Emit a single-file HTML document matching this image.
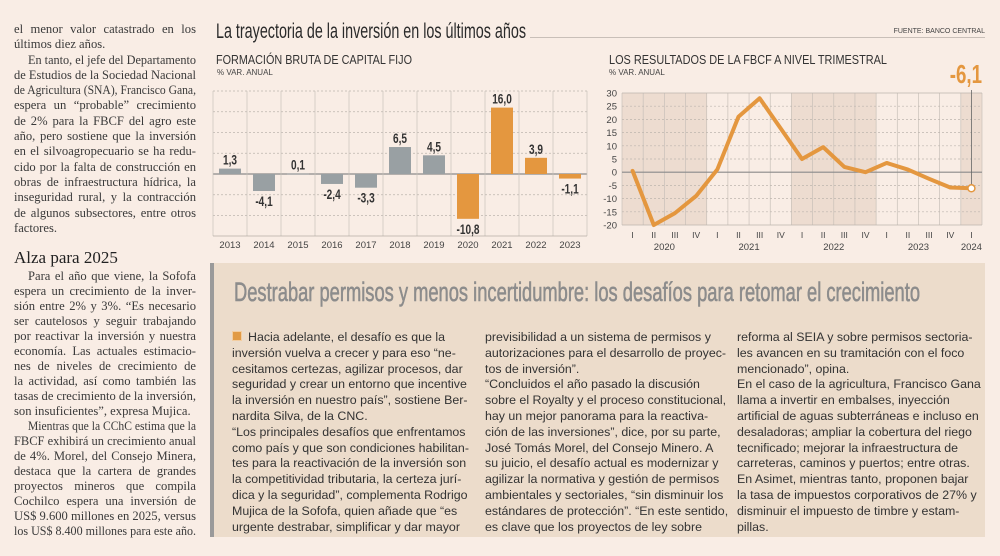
<!DOCTYPE html>
<html><head><meta charset="utf-8">
<style>
html,body{margin:0;padding:0;}
body{width:1000px;height:556px;background:#f9ede5;position:relative;overflow:hidden;font-family:"Liberation Sans",sans-serif;}
.lc{position:absolute;left:14px;width:182px;font-family:"Liberation Serif",serif;font-size:12.6px;color:#3a3a3a;}
.lc div{height:15.3px;line-height:15.3px;white-space:nowrap;text-align:justify;text-align-last:justify;}
.lc div.e{text-align-last:left;}
.lc2 div{height:15.0px;line-height:15.0px;}
.in{padding-left:14px;}
#box{position:absolute;left:210px;top:263px;width:775px;height:274px;background:#ecdccb;border-left:4px solid #9a9a9a;box-sizing:border-box;}
.bc{position:absolute;top:67px;width:245px;font-size:12.4px;color:#333;font-family:"Liberation Sans",sans-serif;}
.bc div{height:15.8px;line-height:15.8px;white-space:nowrap;}
.sc{display:inline-block;transform-origin:0 50%;}
</style></head><body>

<div class="lc" style="top:22px">
<div>el menor valor catastrado en los</div>
<div class="e">últimos diez años.</div>
<div class="in">En tanto, el jefe del Departamento</div>
<div>de Estudios de la Sociedad Nacional</div>
<div>de Agricultura (SNA), Francisco Gana,</div>
<div>espera un “probable” crecimiento</div>
<div>de 2% para la FBCF del agro este</div>
<div>año, pero sostiene que la inversión</div>
<div>en el silvoagropecuario se ha redu-</div>
<div>cido por la falta de construcción en</div>
<div>obras de infraestructura hídrica, la</div>
<div>inseguridad rural, y la contracción</div>
<div>de algunos subsectores, entre otros</div>
<div class="e">factores.</div>
</div>
<div style="position:absolute;left:14px;top:248px;font-family:'Liberation Serif',serif;font-size:17px;color:#222;">Alza para 2025</div>
<div class="lc lc2" style="top:269px">
<div class="in">Para el año que viene, la Sofofa</div>
<div>espera un crecimiento de la inver-</div>
<div>sión entre 2% y 3%. “Es necesario</div>
<div>ser cautelosos y seguir trabajando</div>
<div>por reactivar la inversión y nuestra</div>
<div>economía. Las actuales estimacio-</div>
<div>nes de niveles de crecimiento de</div>
<div>la actividad, así como también las</div>
<div>tasas de crecimiento de la inversión,</div>
<div class="e">son insuficientes”, expresa Mujica.</div>
<div class="in">Mientras que la CChC estima que la</div>
<div>FBCF exhibirá un crecimiento anual</div>
<div>de 4%. Morel, del Consejo Minera,</div>
<div>destaca que la cartera de grandes</div>
<div>proyectos mineros que compila</div>
<div>Cochilco espera una inversión de</div>
<div>US$ 9.600 millones en 2025, versus</div>
<div>los US$ 8.400 millones para este año.</div>
</div>

<svg id="top" width="1000" height="260" style="position:absolute;left:0;top:0" xmlns="http://www.w3.org/2000/svg">
<text x="216" y="38" font-size="21" fill="#2a2a2a" textLength="310" lengthAdjust="spacingAndGlyphs" font-family="Liberation Sans">La trayectoria de la inversión en los últimos años</text>
<line x1="530" y1="37.5" x2="985" y2="37.5" stroke="#c9bfb8" stroke-width="1"/>
<text x="985" y="33" font-size="7" fill="#444" text-anchor="end">FUENTE: BANCO CENTRAL</text>
<text x="216" y="64" font-size="13" fill="#333" textLength="196" lengthAdjust="spacingAndGlyphs">FORMACIÓN BRUTA DE CAPITAL FIJO</text>
<text x="217" y="75" font-size="8" fill="#444">% VAR. ANUAL</text>
<text x="609" y="64" font-size="13" fill="#333" textLength="278" lengthAdjust="spacingAndGlyphs">LOS RESULTADOS DE LA FBCF A NIVEL TRIMESTRAL</text>
<text x="609" y="75" font-size="8" fill="#444">% VAR. ANUAL</text>
<g id="bars"></g>
<g id="lines"></g>
</svg>

<div id="box">
<div style="position:absolute;left:20px;top:12px;">
<svg width="700" height="34"><text x="0" y="26" font-size="27" fill="#8c8c8c" textLength="686" lengthAdjust="spacingAndGlyphs" font-family="Liberation Sans" stroke="#8c8c8c" stroke-width="0.6">Destrabar permisos y menos incertidumbre: los desafíos para retomar el crecimiento</text></svg>
</div>
<div class="bc" style="left:18px">
<div><span style="display:inline-block;width:8px;height:8px;background:#e19a45;border:1px solid #f3cda0;margin-right:6px;vertical-align:0"></span>Hacia adelante, el desafío es que la</div>
<div>inversión vuelva a crecer y para eso “ne-</div>
<div>cesitamos certezas, agilizar procesos, dar</div>
<div>seguridad y crear un entorno que incentive</div>
<div>la inversión en nuestro país”, sostiene Ber-</div>
<div>nardita Silva, de la CNC.</div>
<div>“Los principales desafíos que enfrentamos</div>
<div>como país y que son condiciones habilitan-</div>
<div>tes para la reactivación de la inversión son</div>
<div>la competitividad tributaria, la certeza jurí-</div>
<div>dica y la seguridad”, complementa Rodrigo</div>
<div>Mujica de la Sofofa, quien añade que “es</div>
<div>urgente destrabar, simplificar y dar mayor</div>
</div>
<div class="bc" style="left:271px">
<div>previsibilidad a un sistema de permisos y</div>
<div>autorizaciones para el desarrollo de proyec-</div>
<div>tos de inversión”.</div>
<div>“Concluidos el año pasado la discusión</div>
<div>sobre el Royalty y el proceso constitucional,</div>
<div>hay un mejor panorama para la reactiva-</div>
<div>ción de las inversiones”, dice, por su parte,</div>
<div>José Tomás Morel, del Consejo Minero. A</div>
<div>su juicio, el desafío actual es modernizar y</div>
<div>agilizar la normativa y gestión de permisos</div>
<div>ambientales y sectoriales, “sin disminuir los</div>
<div>estándares de protección”. “En este sentido,</div>
<div>es clave que los proyectos de ley sobre</div>
</div>
<div class="bc" style="left:523px">
<div>reforma al SEIA y sobre permisos sectoria-</div>
<div>les avancen en su tramitación con el foco</div>
<div>mencionado”, opina.</div>
<div>En el caso de la agricultura, Francisco Gana</div>
<div>llama a invertir en embalses, inyección</div>
<div>artificial de aguas subterráneas e incluso en</div>
<div>desaladoras; ampliar la cobertura del riego</div>
<div>tecnificado; mejorar la infraestructura de</div>
<div>carreteras, caminos y puertos; entre otras.</div>
<div>En Asimet, mientras tanto, proponen bajar</div>
<div>la tasa de impuestos corporativos de 27% y</div>
<div>disminuir el impuesto de timbre y estam-</div>
<div>pillas.</div>
</div>
</div>

<script>
const years = ["2013","2014","2015","2016","2017","2018","2019","2020","2021","2022","2023"];
const fbcf = [1.3,-4.1,0.1,-2.4,-3.3,6.5,4.5,-10.8,16.0,3.9,-1.1];
const fbcfLabels = ["1,3","-4,1","0,1","-2,4","-3,3","6,5","4,5","-10,8","16,0","3,9","-1,1"];
const highlighted = [false,false,false,false,false,false,false,true,true,true,true];
const barTicks = [20,15,10,5,0,-5,-10];

const quarters = ["I","II","III","IV","I","II","III","IV","I","II","III","IV","I","II","III","IV","I"];
const qValues = [0.5,-20,-15.5,-9,1,21,28,16.5,5,9.5,2,0,3.5,1,-2.5,-5.8,-6.1];
const qYears = ["2020","2021","2022","2023","2024"];
const qYearStart = [0,4,8,12,16];
const qTicks = [30,25,20,15,10,5,0,-5,-10,-15,-20];
const lastLabel = "-6,1";

// fit text lines to column width
document.querySelectorAll('.lc div, .bc div').forEach(d=>{
  const maxW=d.clientWidth - (parseFloat(getComputedStyle(d).paddingLeft)||0);
  const s=document.createElement('span');
  s.className='sc';
  while(d.firstChild) s.appendChild(d.firstChild);
  d.appendChild(s);
  const w=s.getBoundingClientRect().width;
  if(w>maxW){ s.style.transform='scaleX('+(maxW/w)+')'; }
  else if(d.parentNode.classList.contains('lc')){ while(s.firstChild) d.insertBefore(s.firstChild,s); s.remove(); }
});

const NS="http://www.w3.org/2000/svg";
function mk(parent,tag,attrs,txt){const e=document.createElementNS(NS,tag);for(const k in attrs)e.setAttribute(k,attrs[k]);if(txt!==undefined)e.textContent=txt;parent.appendChild(e);return e;}

// bar chart
const bg=document.getElementById('bars');
const bx0=213,bx1=587,by0=174,bpu=4.15,btop=91,bbot=236;
const bw=(bx1-bx0)/years.length;
const bxs=i=>bx0+bw*i, byv=v=>by0-v*bpu;
barTicks.forEach(t=>{
  const l=mk(bg,'line',{x1:bx0,x2:bx1,y1:byv(t),y2:byv(t),stroke:t===0?'#8a8a8a':'#bdb5ae','stroke-width':t===0?1.2:0.7,'stroke-dasharray':t===0?'':'2,2'});
  
  
});
for(let i=0;i<=years.length;i++){
  mk(bg,'line',{x1:bxs(i),x2:bxs(i),y1:btop,y2:bbot,stroke:'#c8c0b9','stroke-width':0.7});
}
mk(bg,'line',{x1:bx0,x2:bx1,y1:bbot,y2:bbot,stroke:'#b5aca5','stroke-width':0.8});
years.forEach((y,i)=>{
  const v=fbcf[i],cx=bxs(i)+bw/2,w=22;
  const r=mk(bg,'rect',{x:cx-w/2,y:Math.min(byv(v),by0),width:w,height:Math.max(Math.abs(v)*bpu,0.8),fill:highlighted[i]?'#e4973f':'#99a0a3'});
  
  
  const ly=v>=0?byv(v)-4:byv(v)+15;
  const t=mk(bg,'text',{x:cx,y:ly,'font-size':14,'text-anchor':'middle',fill:'#333','font-weight':'bold',transform:`translate(${cx},0) scale(0.72,1) translate(${-cx},0)`},fbcfLabels[i]);
  
  
  const xl=mk(bg,'text',{x:cx,y:248,'font-size':9.5,'text-anchor':'middle',fill:'#444'},y);
  
  
});

// line chart
const lg=document.getElementById('lines');
const lx0=622,lx1=982,ly30=93,lym20=225;
const qw=(lx1-lx0)/quarters.length;
const lyv=v=>ly30+(30-v)*(lym20-ly30)/50;
const lxq=i=>lx0+qw*(i+0.5);
qYearStart.forEach((s,k)=>{
  if(k%2===0){
    const n=(k+1<qYearStart.length?qYearStart[k+1]:quarters.length)-s;
    const r=mk(lg,'rect',{x:lx0+qw*s,y:ly30,width:qw*n,height:lym20-ly30,fill:'#eddcd0'});
    
    
  }
});
for(let i=0;i<=quarters.length;i++){
  mk(lg,'line',{x1:lx0+qw*i,x2:lx0+qw*i,y1:ly30,y2:lym20,stroke:'#c8c0b9','stroke-width':0.7});
}
qTicks.forEach(t=>{
  mk(lg,'line',{x1:lx0,x2:lx1,y1:lyv(t),y2:lyv(t),stroke:t===0?'#8a8a8a':'#bdb5ae','stroke-width':t===0?1.2:0.7,'stroke-dasharray':(t===0||t===30||t===-20)?'':'2,2'});
  const tl=mk(lg,'text',{x:617,y:lyv(t)+3.5,'font-size':9.5,'text-anchor':'end',fill:'#444'},String(t));
  
  
});
quarters.forEach((q,i)=>{
  const t=mk(lg,'text',{x:lxq(i),y:238,'font-size':8.5,'text-anchor':'middle',fill:'#444'},q);
  
  
});
qYears.forEach((y,k)=>{
  const s=qYearStart[k],e=k+1<qYearStart.length?qYearStart[k+1]:quarters.length;
  let cx=lx0+qw*(s+e)/2; if(k===qYears.length-1) cx=lxq(s);
  const t=mk(lg,'text',{x:cx,y:250,'font-size':9.5,'text-anchor':'middle',fill:'#444'},y);
  
  
});
const lastI=qValues.length-1;
mk(lg,'line',{x1:lxq(lastI),x2:lxq(lastI),y1:90,y2:lyv(qValues[lastI]),stroke:'#666','stroke-width':0.8});
const pts=qValues.map((v,i)=>lxq(i)+','+lyv(v)).join(' ');
const pl=mk(lg,'polyline',{points:pts,fill:'none',stroke:'#e4973f','stroke-width':4,'stroke-linejoin':'round','stroke-linecap':'round'});


const c=mk(lg,'circle',{cx:lxq(lastI),cy:lyv(qValues[lastI]),r:3.5,fill:'#fff',stroke:'#e4973f','stroke-width':1.5});


const cl=mk(lg,'text',{x:982,y:83,'font-size':26,'font-weight':'bold','text-anchor':'end',fill:'#e4973f',transform:'translate(982,0) scale(0.72,1) translate(-982,0)'},lastLabel);


</script>
</body></html>
